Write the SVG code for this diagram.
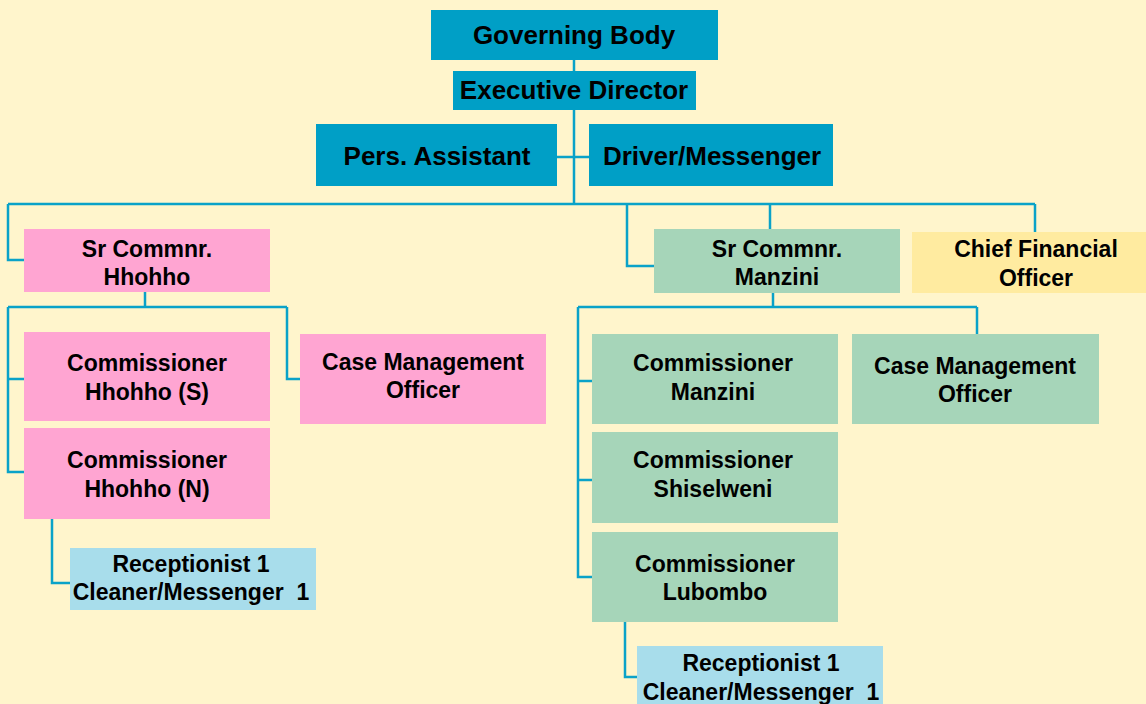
<svg xmlns="http://www.w3.org/2000/svg" width="1146" height="704" viewBox="0 0 1146 704">
<style>
text{font-family:"Liberation Sans",Arial,sans-serif;font-weight:bold;fill:#000;text-anchor:middle;white-space:pre}
.t26{font-size:26px}
.t23{font-size:23px}
.teal{fill:#009FC6}
.pink{fill:#FFA5D2}
.green{fill:#A6D5B9}
.blue{fill:#A8DDEB}
.yellow{fill:#FFEBA0}
.ln{fill:none;stroke:#0AA2C8;stroke-width:2.5}
</style>
<rect width="1146" height="704" fill="#FFF5CC"/>
<g id="connectors" class="ln">
<line x1="574" y1="60" x2="574" y2="71"/>
<line x1="574" y1="110" x2="574" y2="204"/>
<line x1="557" y1="157" x2="589" y2="157"/>
<line x1="8" y1="204" x2="1035" y2="204"/>
<polyline points="8,204 8,260 24,260"/>
<polyline points="627,204 627,266 654,266"/>
<line x1="770" y1="204" x2="770" y2="229"/>
<line x1="1035" y1="204" x2="1035" y2="232"/>
<line x1="145" y1="292" x2="145" y2="307"/>
<line x1="8" y1="307" x2="287" y2="307"/>
<polyline points="287,307 287,379 300,379"/>
<polyline points="8,307 8,472 24,472"/>
<line x1="8" y1="379" x2="24" y2="379"/>
<polyline points="52,519 52,583 70,583"/>
<line x1="773" y1="293" x2="773" y2="307"/>
<line x1="578" y1="307" x2="977" y2="307"/>
<line x1="977" y1="307" x2="977" y2="334"/>
<polyline points="578,307 578,577 592,577"/>
<line x1="578" y1="381" x2="592" y2="381"/>
<line x1="578" y1="480" x2="592" y2="480"/>
<polyline points="625,622 625,677 637,677"/>
</g>
<g id="governing-body"><rect class="teal" x="431" y="10" width="287" height="50"/><text class="t26" x="574" y="44">Governing Body</text></g>
<g id="executive-director"><rect class="teal" x="453" y="71" width="243" height="39"/><text class="t26" x="574" y="99">Executive Director</text></g>
<g id="pers-assistant"><rect class="teal" x="316" y="124" width="241" height="62"/><text class="t26" x="437" y="165">Pers. Assistant</text></g>
<g id="driver-messenger"><rect class="teal" x="589" y="124" width="244" height="62"/><text class="t26" x="712" y="165">Driver/Messenger</text></g>
<g id="sr-commnr-hhohho"><rect class="pink" x="24" y="229" width="246" height="63"/><text class="t23" x="147" y="257">Sr Commnr.</text><text class="t23" x="147" y="285">Hhohho</text></g>
<g id="commissioner-hhohho-s"><rect class="pink" x="24" y="332" width="246" height="89"/><text class="t23" x="147" y="371">Commissioner</text><text class="t23" x="147" y="400">Hhohho (S)</text></g>
<g id="case-mgmt-hhohho"><rect class="pink" x="300" y="334" width="246" height="90"/><text class="t23" x="423" y="370">Case Management</text><text class="t23" x="423" y="398">Officer</text></g>
<g id="commissioner-hhohho-n"><rect class="pink" x="24" y="428" width="246" height="91"/><text class="t23" x="147" y="468">Commissioner</text><text class="t23" x="147" y="497">Hhohho (N)</text></g>
<g id="reception-hhohho"><rect class="blue" x="70" y="548" width="246" height="62"/><text class="t23" x="191" y="572">Receptionist 1</text><text class="t23" x="191" y="600" xml:space="preserve">Cleaner/Messenger  1</text></g>
<g id="sr-commnr-manzini"><rect class="green" x="654" y="229" width="246" height="64"/><text class="t23" x="777" y="257">Sr Commnr.</text><text class="t23" x="777" y="285">Manzini</text></g>
<g id="cfo"><rect class="yellow" x="912" y="232" width="234" height="61"/><text class="t23" x="1036" y="257">Chief Financial</text><text class="t23" x="1036" y="286">Officer</text></g>
<g id="commissioner-manzini"><rect class="green" x="592" y="334" width="246" height="90"/><text class="t23" x="713" y="371">Commissioner</text><text class="t23" x="713" y="400">Manzini</text></g>
<g id="case-mgmt-manzini"><rect class="green" x="852" y="334" width="247" height="90"/><text class="t23" x="975" y="374">Case Management</text><text class="t23" x="975" y="402">Officer</text></g>
<g id="commissioner-shiselweni"><rect class="green" x="592" y="432" width="246" height="91"/><text class="t23" x="713" y="468">Commissioner</text><text class="t23" x="713" y="497">Shiselweni</text></g>
<g id="commissioner-lubombo"><rect class="green" x="592" y="532" width="246" height="90"/><text class="t23" x="715" y="572">Commissioner</text><text class="t23" x="715" y="600">Lubombo</text></g>
<g id="reception-manzini"><rect class="blue" x="637" y="646" width="246" height="62"/><text class="t23" x="761" y="671">Receptionist 1</text><text class="t23" x="761" y="700" xml:space="preserve">Cleaner/Messenger  1</text></g>
</svg>
